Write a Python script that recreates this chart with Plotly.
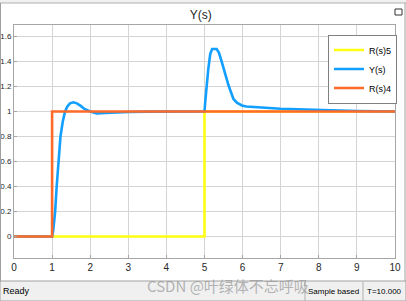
import plotly.graph_objects as go

# ---- data ----
t_r5 = [0, 5, 5, 10]
y_r5 = [0, 0, 1, 1]

t_r4 = [0, 1, 1, 10]
y_r4 = [0, 0, 1, 1]

t_y = [0, 1.0, 1.03, 1.05, 1.08, 1.12, 1.17, 1.22, 1.28, 1.34, 1.4, 1.47, 1.56, 1.65,
       1.75, 1.85, 2.0, 2.17, 2.4, 2.7, 3.0, 3.5, 4.0, 5.0, 5.02, 5.05, 5.1, 5.15, 5.2,
       5.32, 5.38, 5.45, 5.55, 5.63, 5.7, 5.76, 5.85, 5.98, 6.1, 6.27, 6.6, 7.0, 7.5,
       8.0, 8.5, 9.0, 10.0]
y_y = [0, 0, 0.05, 0.1, 0.2, 0.4, 0.6, 0.8, 0.92, 1.0, 1.04, 1.065, 1.074, 1.065,
       1.045, 1.02, 1.0, 0.985, 0.988, 0.993, 0.996, 0.999, 1.0, 1.0, 1.08, 1.2, 1.34,
       1.46, 1.5, 1.5, 1.47, 1.4, 1.29, 1.21, 1.15, 1.1, 1.07, 1.048, 1.04, 1.035,
       1.03, 1.022, 1.016, 1.011, 1.007, 1.004, 1.0]

x_ticks = list(range(0, 11))
y_ticks = [0, 0.2, 0.4, 0.6, 0.8, 1, 1.2, 1.4, 1.6]
y_tick_text = ["0", "0.2", "0.4", "0.6", "0.8", "1", "1.2", "1.4", "1.6"]

W, H = 406, 301
L, R, T, B = 14, 395, 25, 258


def px(x):
    return (x - L) / (R - L)


def py(y):
    return (B - y) / (B - T)


fig = go.Figure()
fig.add_trace(go.Scatter(x=t_r5, y=y_r5, mode="lines", name="R(s)5",
                         line=dict(color="#FFFF11", width=2.6)))
fig.add_trace(go.Scatter(x=t_y, y=y_y, mode="lines", name="Y(s)",
                         line=dict(color="#129FFF", width=2.6)))
fig.add_trace(go.Scatter(x=t_r4, y=y_r4, mode="lines", name="R(s)4",
                         line=dict(color="#FF6929", width=2.6)))

shapes = []
# window frame
shapes.append(dict(type="rect", xref="paper", yref="paper", x0=px(0), x1=px(406),
                   y0=py(0), y1=py(3), fillcolor="#f0f0f0", line=dict(width=0), layer="below"))
shapes.append(dict(type="line", xref="paper", yref="paper", x0=px(0), x1=px(406),
                   y0=py(3), y1=py(3), line=dict(color="#b0b0b0", width=1)))
shapes.append(dict(type="line", xref="paper", yref="paper", x0=px(0.5), x1=px(0.5),
                   y0=py(3), y1=py(281), line=dict(color="#a0a0a0", width=1)))
shapes.append(dict(type="line", xref="paper", yref="paper", x0=px(405), x1=px(405),
                   y0=py(3), y1=py(281), line=dict(color="#a0a0a0", width=1)))
# status bar
shapes.append(dict(type="rect", xref="paper", yref="paper", x0=px(0), x1=px(406),
                   y0=py(281), y1=py(301), fillcolor="#f0f0f0",
                   line=dict(color="#a0a0a0", width=1), layer="below"))
shapes.append(dict(type="line", xref="paper", yref="paper", x0=px(305), x1=px(305),
                   y0=py(282), y1=py(301), line=dict(color="#b0b0b0", width=1)))
shapes.append(dict(type="line", xref="paper", yref="paper", x0=px(363), x1=px(363),
                   y0=py(282), y1=py(301), line=dict(color="#b0b0b0", width=1)))
# small icon top right
shapes.append(dict(type="rect", xref="paper", yref="paper", x0=px(395), x1=px(402),
                   y0=py(9), y1=py(15), fillcolor="#ffffff",
                   line=dict(color="#333333", width=1)))

annotations = [
    dict(text="Ready", xref="paper", yref="paper", x=px(1), y=py(291), xanchor="left",
         yanchor="middle", showarrow=False, font=dict(size=9, color="#000000")),
    dict(text="Sample based", xref="paper", yref="paper", x=px(306), y=py(291),
         xanchor="left", yanchor="middle", showarrow=False, font=dict(size=8, color="#000000")),
    dict(text="T=10.000", xref="paper", yref="paper", x=px(365), y=py(291),
         xanchor="left", yanchor="middle", showarrow=False, font=dict(size=8, color="#000000")),
    dict(text="CSDN @叶绿体不忘呼吸", xref="paper", yref="paper", x=px(228), y=py(285),
         xanchor="center", yanchor="middle", showarrow=False,
         font=dict(size=15, color="rgba(150,150,150,0.7)", family="Noto Sans CJK SC")),
]

fig.update_layout(
    width=W, height=H,
    margin=dict(l=L, r=W - R, t=T, b=H - B, pad=0, autoexpand=False),
    paper_bgcolor="white", plot_bgcolor="white",
    font=dict(family="Liberation Sans, Arial, sans-serif", size=10, color="#262626"),
    title=dict(text="Y(s)", x=px(202.5), xanchor="center", y=1 - 15 / H, yanchor="middle",
               font=dict(size=12, color="#262626")),
    showlegend=True,
    legend=dict(x=px(328), y=py(34.5), xanchor="left", yanchor="top",
                bgcolor="white", bordercolor="#808080", borderwidth=1,
                font=dict(size=9, color="#000000"), tracegroupgap=0,
                itemwidth=30, traceorder="normal"),
    shapes=shapes,
    annotations=annotations,
    xaxis=dict(range=[0, 10], tickvals=x_ticks, showgrid=True, gridcolor="#d4d4d4",
               gridwidth=1, zeroline=False, showline=True, linecolor="#a6a6a6",
               linewidth=1, mirror=True, ticks="inside", ticklen=3, tickcolor="#a6a6a6",
               automargin=False, tickfont=dict(size=10, color="#262626")),
    yaxis=dict(range=[-0.172, 1.692], tickvals=y_ticks, ticktext=y_tick_text,
               showgrid=True, gridcolor="#d4d4d4", gridwidth=1, zeroline=False,
               showline=True, linecolor="#a6a6a6", linewidth=1, mirror=True,
               ticks="inside", ticklen=3, tickcolor="#a6a6a6", ticklabelstandoff=0,
               automargin=False,
               tickfont=dict(size=8, color="#262626",
                             family="Liberation Sans Narrow, Liberation Sans, Arial")),
)

fig.write_html("out.html")
